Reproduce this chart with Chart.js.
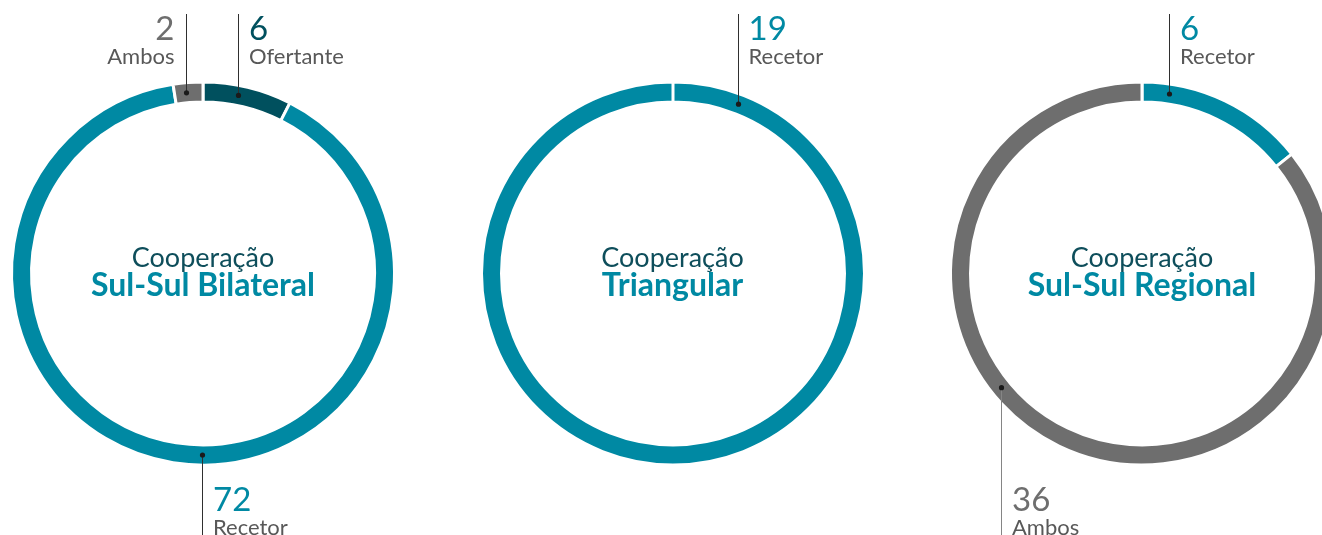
<!DOCTYPE html>
<html><head><meta charset="utf-8">
<script src="https://cdn.jsdelivr.net/npm/chart.js@4.4.1/dist/chart.umd.min.js"></script>
<style>
html,body{margin:0;padding:0;width:1322px;height:535px;overflow:hidden;background:#fff;font-family:Lato,'Noto Sans',sans-serif;}
#stage{position:relative;width:1322px;height:535px;overflow:hidden;}
canvas{position:absolute;top:0;}
.t{position:absolute;white-space:nowrap;margin:0;padding:0;}
</style></head><body>
<div id="stage"></div>
<script>
// ---- data ----
const bilateralLabels = ['Ofertante', 'Recetor', 'Ambos'];
const bilateralValues = [6, 72, 2];
const triangularLabels = ['Recetor'];
const triangularValues = [19];
const regionalLabels = ['Recetor', 'Ambos'];
const regionalValues = [6, 36];
const titlePrefix = 'Cooperação';
const chartTitles = ['Sul-Sul Bilateral', 'Triangular', 'Sul-Sul Regional'];

// ---- styles / layout ----
const COLORS = { Ofertante: '#00505E', Recetor: '#0089A3', Ambos: '#6E6E6E' };
const LAYOUT = { centersX: [203, 672.5, 1142], padTop: 12, outerR: 191.5, innerR: 171.5, W: 470, H: 535 };
const CALLOUTS = [
  [{ i: 2, angle: -5.3, dir: 'up', side: 'left' }, { i: 0, angle: 11.2, dir: 'up', side: 'right' }, { i: 1, angle: 180.3, dir: 'down', side: 'right' }],
  [{ i: 0, angle: 21.1, dir: 'up', side: 'right' }],
  [{ i: 0, angle: 8.5, dir: 'up', side: 'right' }, { i: 1, angle: 231, dir: 'down', side: 'right', line: '#858585' }]
];
const FONT = 'Lato';
const NUM_FS = 33, NAME_FS = 22, PRE_FS = 27, TITLE_FS = 32;

const stage = document.getElementById('stage');
const mctx = document.createElement('canvas').getContext('2d');
function baseOff(weight, fs) {
  mctx.font = weight + ' ' + fs + 'px ' + FONT;
  const m = mctx.measureText('Hg');
  const asc = m.fontBoundingBoxAscent, desc = m.fontBoundingBoxDescent;
  return (fs - (asc + desc)) / 2 + asc;
}
function makeText(str, fs, weight, color) {
  const d = document.createElement('div');
  d.className = 't';
  d.textContent = str;
  d.style.fontSize = fs + 'px';
  d.style.lineHeight = fs + 'px';
  d.style.fontWeight = weight;
  d.style.color = color;
  d.style.fontFamily = FONT + ", 'Noto Sans', sans-serif";
  stage.appendChild(d);
  return d;
}
function placeBaseline(el, fs, weight, baseline) {
  el.style.top = (baseline - baseOff(weight, fs)) + 'px';
}

const sets = [
  { labels: bilateralLabels, values: bilateralValues },
  { labels: triangularLabels, values: triangularValues },
  { labels: regionalLabels, values: regionalValues }
];

const calloutPlugin = {
  id: 'callouts',
  afterDraw(chart) {
    const k = chart.options.plugins.callouts.k;
    const arc = chart.getDatasetMeta(0).data[0];
    if (!arc) return;
    const cx = arc.x, cy = arc.y;
    const rMid = (arc.outerRadius + arc.innerRadius) / 2;
    const ctx = chart.ctx;
    const left = LAYOUT.centersX[k] - LAYOUT.W / 2;
    ctx.save();
    CALLOUTS[k].forEach((c, j) => {
      const a = c.angle * Math.PI / 180;
      let x = cx + rMid * Math.sin(a);
      const y = cy - rMid * Math.cos(a);
      x = Math.round(x) + 0.5;
      ctx.strokeStyle = c.line || '#2f2f2f';
      ctx.lineWidth = 1;
      ctx.beginPath();
      if (c.dir === 'up') { ctx.moveTo(x, 14); ctx.lineTo(x, y); }
      else { ctx.moveTo(x, y); ctx.lineTo(x, LAYOUT.H + 5); }
      ctx.stroke();
      ctx.fillStyle = '#1a1a1a';
      ctx.beginPath(); ctx.arc(x, y, 2.6, 0, Math.PI * 2); ctx.fill();

      const key = 'el' + k + '_' + j;
      const lab = sets[k].labels[c.i];
      if (!window[key]) {
        window[key] = {
          num: makeText(String(sets[k].values[c.i]), NUM_FS, 400, COLORS[lab]),
          name: makeText(lab, NAME_FS, 400, '#585858')
        };
      }
      const els = window[key];
      const px = left + x;
      const nb = c.dir === 'up' ? 40 : 511;
      const lb = c.dir === 'up' ? 64 : 535;
      placeBaseline(els.num, NUM_FS, 400, nb);
      placeBaseline(els.name, NAME_FS, 400, lb);
      if (c.side === 'right') {
        els.num.style.left = (px + 10.5) + 'px';
        els.name.style.left = (px + 10.5) + 'px';
      } else {
        els.num.style.right = (1322 - (px - 12)) + 'px';
        els.name.style.right = (1322 - (px - 12)) + 'px';
        els.num.style.textAlign = 'right';
        els.name.style.textAlign = 'right';
      }
    });
    ctx.restore();
  }
};

sets.forEach((s, k) => {
  const cv = document.createElement('canvas');
  cv.width = LAYOUT.W; cv.height = LAYOUT.H;
  cv.style.width = LAYOUT.W + 'px'; cv.style.height = LAYOUT.H + 'px';
  cv.style.left = (LAYOUT.centersX[k] - LAYOUT.W / 2) + 'px';
  stage.appendChild(cv);
  new Chart(cv, {
    type: 'doughnut',
    data: {
      labels: s.labels,
      datasets: [{
        data: s.values,
        backgroundColor: s.labels.map(l => COLORS[l]),
        borderColor: '#ffffff',
        borderWidth: 3,
        borderAlign: 'center',
        hoverOffset: 0
      }]
    },
    options: {
      responsive: false,
      animation: false,
      events: [],
      radius: LAYOUT.outerR,
      cutout: (LAYOUT.innerR / LAYOUT.outerR * 100) + '%',
      rotation: 0,
      layout: { padding: { top: LAYOUT.padTop, left: 0, right: 0, bottom: 0 } },
      plugins: { legend: { display: false }, tooltip: { enabled: false }, callouts: { k } }
    },
    plugins: [calloutPlugin]
  });

  // centre titles
  const pre = makeText(titlePrefix, PRE_FS, 400, '#0E4E5B');
  const ttl = makeText(chartTitles[k], TITLE_FS, 700, '#0089A3');
  [pre, ttl].forEach(el => { el.style.width = '400px'; el.style.textAlign = 'center'; el.style.left = (LAYOUT.centersX[k] - 200) + 'px'; });
  placeBaseline(pre, PRE_FS, 400, 267);
  placeBaseline(ttl, TITLE_FS, 700, 296);
});
</script>
</body></html>
